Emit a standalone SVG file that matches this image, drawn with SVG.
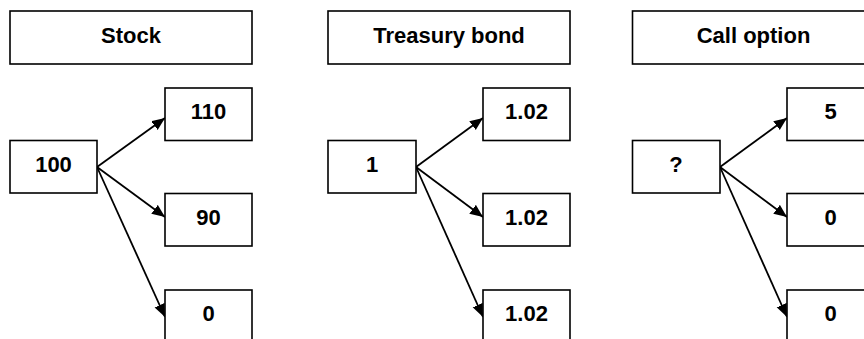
<svg xmlns="http://www.w3.org/2000/svg" width="864" height="339" viewBox="0 0 864 339">
<style>
.box{fill:#fff;stroke:#000;stroke-width:1.6}
.t{font-family:"Liberation Sans",Arial,sans-serif;font-weight:bold;font-size:22px;text-anchor:middle;fill:#000}
.c{stroke:#000;stroke-width:1.8;fill:none}
</style>
<defs>
<marker id="ah" markerUnits="userSpaceOnUse" markerWidth="14" markerHeight="12" refX="13" refY="5.5" orient="auto">
<path d="M0,0 L13,5.5 L0,11 z" fill="#000"/>
</marker>
</defs>
<rect width="864" height="339" fill="#fff"/>
<g id="connectors">
<line class="c" x1="97" y1="167" x2="165" y2="118" marker-end="url(#ah)"/>
<line class="c" x1="97" y1="167" x2="165" y2="217" marker-end="url(#ah)"/>
<line class="c" x1="97" y1="167" x2="165" y2="317" marker-end="url(#ah)"/>
<line class="c" x1="416" y1="167" x2="483" y2="118" marker-end="url(#ah)"/>
<line class="c" x1="416" y1="167" x2="483" y2="217" marker-end="url(#ah)"/>
<line class="c" x1="416" y1="167" x2="483" y2="317" marker-end="url(#ah)"/>
<line class="c" x1="720" y1="167" x2="787" y2="118" marker-end="url(#ah)"/>
<line class="c" x1="720" y1="167" x2="787" y2="217" marker-end="url(#ah)"/>
<line class="c" x1="720" y1="167" x2="787" y2="317" marker-end="url(#ah)"/>
</g>
<g id="stock-header"><rect class="box" x="10" y="11" width="242" height="53"/><text class="t" x="131" y="43">Stock</text></g>
<g id="stock-root"><rect class="box" x="10" y="140.5" width="87" height="52.5"/><text class="t" x="53.5" y="171.5">100</text></g>
<g id="stock-up"><rect class="box" x="165" y="88" width="87" height="52.5"/><text class="t" x="208.5" y="119">110</text></g>
<g id="stock-mid"><rect class="box" x="165" y="193.5" width="87" height="52.5"/><text class="t" x="208.5" y="224.5">90</text></g>
<g id="stock-down"><rect class="box" x="165" y="290" width="87" height="60"/><text class="t" x="208.5" y="321">0</text></g>
<g id="bond-header"><rect class="box" x="328" y="11" width="242" height="53"/><text class="t" x="449" y="43">Treasury bond</text></g>
<g id="bond-root"><rect class="box" x="328" y="140.5" width="88" height="52.5"/><text class="t" x="372" y="171.5">1</text></g>
<g id="bond-up"><rect class="box" x="483" y="88" width="87" height="52.5"/><text class="t" x="526.5" y="119">1.02</text></g>
<g id="bond-mid"><rect class="box" x="483" y="193.5" width="87" height="52.5"/><text class="t" x="526.5" y="224.5">1.02</text></g>
<g id="bond-down"><rect class="box" x="483" y="290" width="87" height="60"/><text class="t" x="526.5" y="321">1.02</text></g>
<g id="call-header"><rect class="box" x="632.5" y="11" width="242" height="53"/><text class="t" x="753.5" y="43">Call option</text></g>
<g id="call-root"><rect class="box" x="632.5" y="140.5" width="87.5" height="52.5"/><text class="t" x="676" y="171.5">?</text></g>
<g id="call-up"><rect class="box" x="787" y="88" width="87" height="52.5"/><text class="t" x="830.5" y="119">5</text></g>
<g id="call-mid"><rect class="box" x="787" y="193.5" width="87" height="52.5"/><text class="t" x="830.5" y="224.5">0</text></g>
<g id="call-down"><rect class="box" x="787" y="290" width="87" height="60"/><text class="t" x="830.5" y="321">0</text></g>
</svg>
